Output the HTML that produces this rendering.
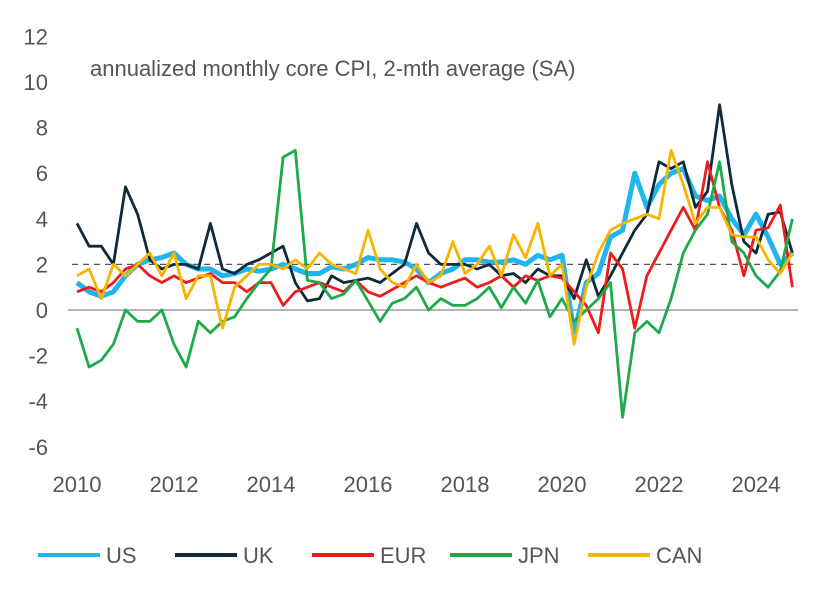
<!DOCTYPE html>
<html><head><meta charset="utf-8"><style>
body{margin:0;background:#fff;}
svg text{font-family:"Liberation Sans",sans-serif;fill:#555;}
</style></head><body>
<svg id="chart" width="834" height="589" xmlns="http://www.w3.org/2000/svg">
<text x="90" y="76" font-size="22">annualized monthly core CPI, 2-mth average (SA)</text>
<g id="yaxis"></g>
<g id="xaxis"></g>
<g id="refs"></g>
<g id="lines"></g>
<g id="legend"></g>
</svg>
<script>
const startYear = 2010;
const stepYears = 0.25;
const yTicks = [12,10,8,6,4,2,0,-2,-4,-6];
const xTicks = [2010,2012,2014,2016,2018,2020,2022,2024];
const seriesNames = ["US","UK","EUR","JPN","CAN"];
const seriesColors = ["#1fb5f0","#0f2a3a","#ee1c1c","#1eaa4a","#f7b500"];
const us = [1.2,0.8,0.6,0.8, 1.5,2,2.2,2.3, 2.5,2,1.8,1.8, 1.5,1.6,1.8,1.7, 1.8,2,1.8,1.6, 1.6,1.9,1.8,2, 2.3,2.2,2.2,2.1, 1.8,1.2,1.6,1.8, 2.2,2.2,2.1,2.1, 2.2,2,2.4,2.2, 2.4,-1,1.2,1.6, 3.2,3.5,6,4.5, 5.5,6,6.2,5, 4.8,5,4,3.3, 4.2,3.2,2,2.5];
const uk = [3.8,2.8,2.8,2, 5.4,4.2,2.2,1.8, 2,2,1.8,3.8, 1.8,1.6,2,2.2, 2.5,2.8,1.2,0.4, 0.5,1.5,1.2,1.3, 1.4,1.2,1.6,2, 3.8,2.5,2,2, 2,1.8,2,1.5, 1.6,1.2,1.8,1.5, 1.5,0.5,2.2,0.6, 1.5,2.5,3.5,4.2, 6.5,6.2,6.5,4.5, 5.2,9,5.5,3, 2.5,4.2,4.3,2.5];
const eur = [0.8,1,0.8,1.2, 1.8,2,1.5,1.2, 1.5,1.2,1.4,1.6, 1.2,1.2,0.8,1.2, 1.2,0.2,0.8,1, 1.2,1,0.8,1.3, 0.8,0.6,0.9,1.2, 1.5,1.2,1,1.2, 1.4,1,1.2,1.5, 1,1.5,1.3,1.5, 1.4,0.8,0.2,-1, 2.5,1.8,-0.8,1.5, 2.5,3.5,4.5,3.5, 6.5,4.5,3.5,1.5, 3.5,3.6,4.6,1];
const jpn = [-0.8,-2.5,-2.2,-1.5, 0,-0.5,-0.5,0, -1.5,-2.5,-0.5,-1, -0.5,-0.3,0.5,1.2, 1.8,6.7,7,1.3, 1.2,0.5,0.7,1.3, 0.4,-0.5,0.3,0.5, 1,0,0.5,0.2, 0.2,0.5,1,0.1, 1,0.3,1.3,-0.3, 0.5,-0.5,0,0.5, 1.2,-4.7,-1,-0.5, -1,0.5,2.5,3.5, 4.2,6.5,3,2.5, 1.5,1,1.7,4];
const can = [1.5,1.8,0.5,2, 1.5,2,2.5,1.5, 2.5,0.5,1.5,1.5, -0.8,1,1.5,2, 2,1.8,2.2,1.8, 2.5,2,1.8,1.6, 3.5,1.8,1.2,1, 2,1.2,1.5,3, 1.6,2,2.8,1.5, 3.3,2.3,3.8,1.5, 2,-1.5,1,2.5, 3.5,3.8,4,4.2, 4,7,5.5,3.8, 4.5,4.5,3.3,3.2, 3.2,2.2,1.6,2.5];
const allSeries = [us,uk,eur,jpn,can];

const NS="http://www.w3.org/2000/svg";
const xs = yr => 77 + (yr-2010)*48.5;
const ys = v => 310 - v*22.8;
function mk(tag, parent){const e=document.createElementNS(NS,tag);parent.appendChild(e);return e;}
const yaxis=document.getElementById('yaxis'), xaxis=document.getElementById('xaxis'), refs=document.getElementById('refs'), lines=document.getElementById('lines'), legend=document.getElementById('legend');
yTicks.forEach(t=>{const e=mk('text',yaxis);


e.setAttribute('x',48);e.setAttribute('y',ys(t)+8);e.setAttribute('text-anchor','end');e.setAttribute('font-size','22');e.textContent=t;});
xTicks.forEach(t=>{const e=mk('text',xaxis);


e.setAttribute('x',xs(t));e.setAttribute('y',492);e.setAttribute('text-anchor','middle');e.setAttribute('font-size','22');e.textContent=t;});
const z=mk('line',refs);


z.setAttribute('x1',68);z.setAttribute('x2',798);z.setAttribute('y1',ys(0));z.setAttribute('y2',ys(0));z.setAttribute('stroke','#888');z.setAttribute('stroke-width','1.2');
const d=mk('line',refs);


d.setAttribute('x1',72);d.setAttribute('x2',798);d.setAttribute('y1',ys(2));d.setAttribute('y2',ys(2));d.setAttribute('stroke','#555');d.setAttribute('stroke-width','1.2');d.setAttribute('stroke-dasharray','6,5');
allSeries.forEach((s,i)=>{const p=mk('polyline',lines);


p.setAttribute('points',s.map((v,k)=>xs(startYear+k*stepYears).toFixed(1)+','+ys(v).toFixed(1)).join(' '));
p.setAttribute('fill','none');p.setAttribute('stroke',seriesColors[i]);p.setAttribute('stroke-width',i==0?5:2.8);p.setAttribute('stroke-linejoin','round');});
const lx=[38,175,312,450,588];
seriesNames.forEach((n,i)=>{const l=mk('line',legend);


l.setAttribute('x1',lx[i]);l.setAttribute('x2',lx[i]+62);l.setAttribute('y1',555);l.setAttribute('y2',555);l.setAttribute('stroke',seriesColors[i]);l.setAttribute('stroke-width',4);
const t=mk('text',legend);


t.setAttribute('x',lx[i]+68);t.setAttribute('y',563);t.setAttribute('font-size','22');t.textContent=n;});
</script>
</body></html>
